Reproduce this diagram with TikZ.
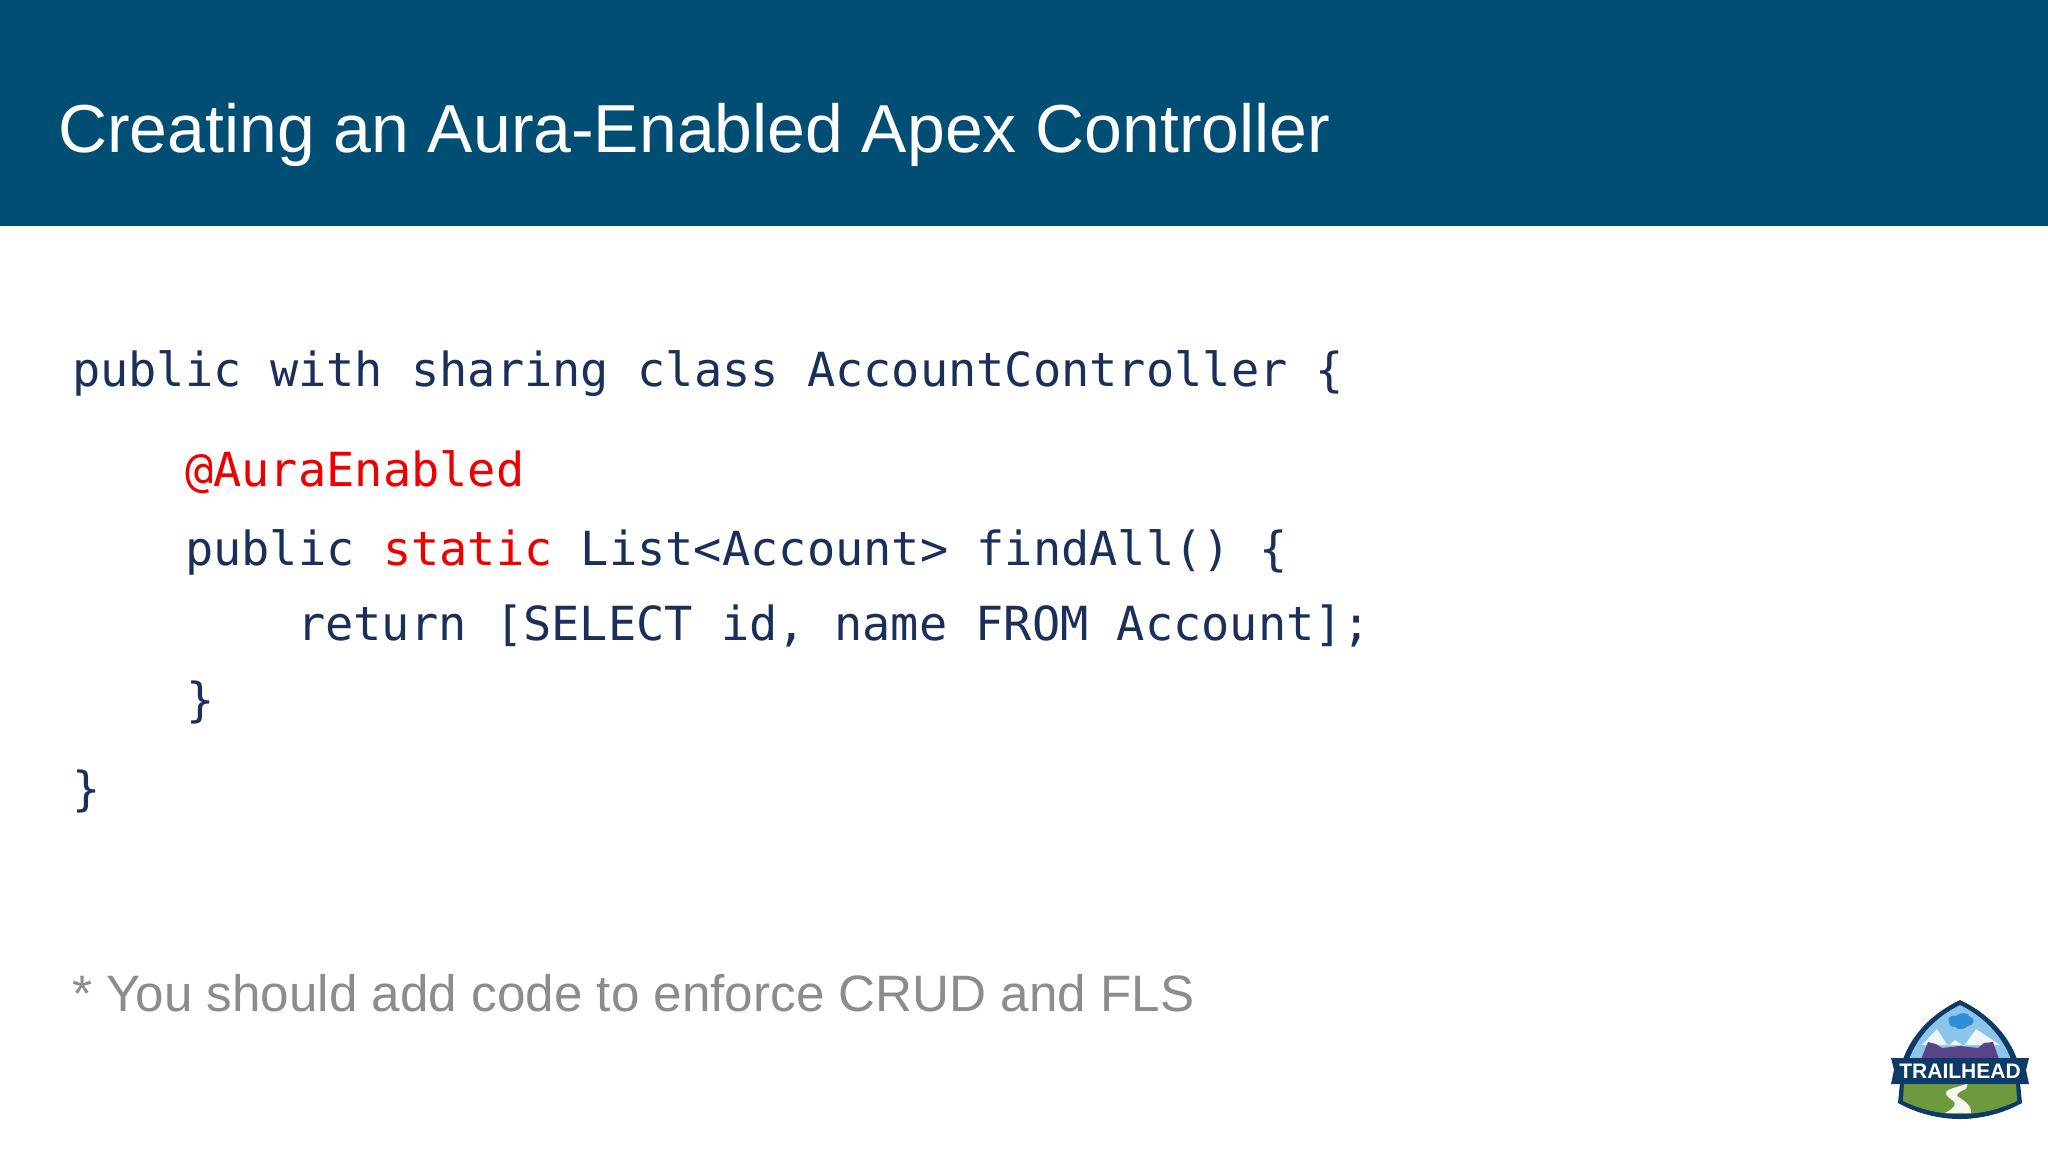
\documentclass[tikz,border=0pt]{standalone}
\usepackage{fontspec}
\setmainfont{Liberation Sans}
\newfontfamily\codefont{DejaVu Sans Mono}
\definecolor{headbar}{HTML}{004E74}
\definecolor{codeblue}{HTML}{1B2F5B}
\definecolor{keyred}{HTML}{EE0000}
\definecolor{notegray}{HTML}{8C8C8C}
\definecolor{lnavy}{HTML}{0E3A68}
\definecolor{lsky}{HTML}{8CC4EA}
\definecolor{lcloud}{HTML}{2E8FD8}
\definecolor{lpurple}{HTML}{5A4488}
\definecolor{lgreen}{HTML}{6C9A3C}
\tikzset{
  x=1pt,y=-1pt,
  titletext/.style={anchor=base west,inner sep=0pt,text=white,font=\fontsize{67.9}{69}\selectfont},
  codetext/.style={anchor=base west,inner sep=0pt,text=codeblue,font=\fontsize{46.95}{50}\codefont},
  notetext/.style={anchor=base west,inner sep=0pt,text=notegray,font=\fontsize{51.2}{52}\selectfont},
  logotext/.style={inner sep=0pt,text=white,font=\fontsize{21}{21}\bfseries\selectfont}
}
\newcommand{\kw}[1]{\textcolor{keyred}{#1}}
\begin{document}
\begin{tikzpicture}
\useasboundingbox (0,0) rectangle (2048,1152);
\fill[white] (0,0) rectangle (2048,1152);
\fill[headbar] (0,0) rectangle (2048,226);
\node[titletext] (title) at (58,152) {Creating an Aura-Enabled Apex Controller};
\node[codetext] (l1) at (72,386.5) {public with sharing class AccountController \{};
\node[codetext,text=keyred] (l2) at (185,486) {@AuraEnabled};
\node[codetext] (l3) at (185,565) {public \kw{static} List<Account> findAll() \{};
\node[codetext] (l4) at (297,640) {return [SELECT id, name FROM Account];};
\node[codetext] (l5) at (186,716) {\}};
\node[codetext] (l6) at (72,805) {\}};
\node[notetext] (note) at (72,1011) {* You should add code to enforce CRUD and FLS};
% Trailhead badge
\fill[lnavy] (1960,1000) .. controls (1935,1012) and (1912,1032) .. (1902,1062)
  -- (1898,1103) .. controls (1918,1114) and (1940,1119) .. (1960,1119)
  .. controls (1980,1119) and (2002,1114) .. (2022,1103)
  -- (2018,1062) .. controls (2008,1032) and (1985,1012) .. (1960,1000) -- cycle;
\fill[lsky] (1960,1005) .. controls (1938,1016) and (1918,1034) .. (1908,1062)
  -- (2012,1062) .. controls (2002,1034) and (1982,1016) .. (1960,1005) -- cycle;
\fill[white!85!lsky] (1922,1045) -- (1937,1029) -- (1948,1046) -- (1955,1040) -- (1964,1046) -- (1976,1029) -- (2000,1045) -- cycle;
\fill[lpurple] (1920,1062) -- (1928,1042) -- (1936,1044) -- (1942,1048) -- (1960,1046) -- (1978,1048) -- (1984,1043) -- (1993,1042) -- (2000,1062) -- cycle;
\fill[lcloud] (1949,1022) .. controls (1946,1018) and (1952,1014) .. (1956,1016)
  .. controls (1960,1012) and (1968,1012) .. (1970,1017)
  .. controls (1976,1017) and (1974,1026) .. (1968,1026)
  .. controls (1964,1030) and (1958,1030) .. (1955,1027)
  .. controls (1951,1027) and (1949,1025) .. (1949,1022) -- cycle;
\fill[lgreen] (1904,1083) -- (2016,1083) -- (2017,1101) .. controls (1998,1110) and (1980,1114) .. (1960,1114)
  .. controls (1940,1114) and (1922,1110) .. (1903,1101) -- cycle;
\fill[white!92!lgreen] (1948,1090) .. controls (1955,1087) and (1962,1086) .. (1968,1083) -- (1966,1089)
  .. controls (1958,1092) and (1954,1095) .. (1960,1098)
  .. controls (1968,1103) and (1972,1108) .. (1971,1113) -- (1945,1113)
  .. controls (1954,1108) and (1958,1104) .. (1952,1100)
  .. controls (1946,1096) and (1944,1093) .. (1948,1090) -- cycle;
\fill[lnavy] (1891,1058) -- (2029,1058) -- (2026,1070) -- (2029,1084) -- (1891,1084) -- (1894,1070) -- cycle;
\node[logotext] (badge) at (1960,1071) {TRAILHEAD};
\end{tikzpicture}
\end{document}
